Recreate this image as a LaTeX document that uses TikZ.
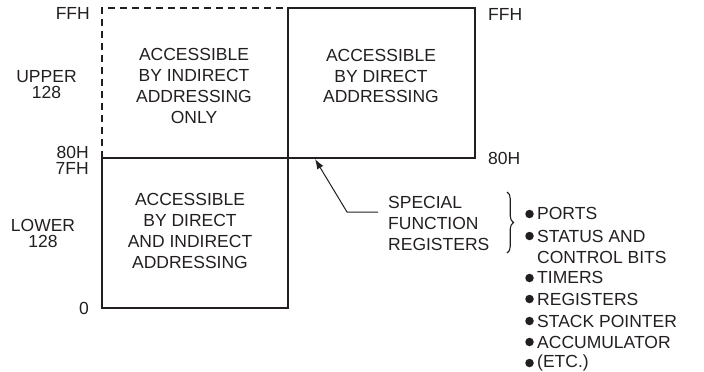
\documentclass[tikz,border=0pt]{standalone}
\usepackage{fontspec}
\setmainfont{Liberation Sans}
\usetikzlibrary{arrows.meta,decorations.pathreplacing}
\definecolor{ink}{HTML}{231F20}
\begin{document}
\begin{tikzpicture}[x=1pt,y=-1pt,
  line/.style={draw=ink,line width=1.2pt},
  dline/.style={draw=ink,line width=1.2pt,dash pattern=on 7pt off 5pt},
  txt/.style={text=ink,font=\fontsize{17.5}{20.8}\selectfont,inner sep=0pt,align=center},
  lab/.style={text=ink,font=\fontsize{17.5}{15.5}\selectfont,inner sep=0pt,align=center},
  item/.style={text=ink,font=\fontsize{17.5}{20.8}\selectfont,inner sep=0pt,anchor=west},
  dot/.style={circle,fill=ink,inner sep=0pt,minimum size=8.5pt}]
\useasboundingbox (0,0) rectangle (704,372);
% corners
\coordinate (ulTL) at (102,8);
\coordinate (ulTR) at (288,8);
\coordinate (urTR) at (475,8);
\coordinate (mL) at (102,158);
\coordinate (mR) at (475,158);
\coordinate (lBL) at (102,308);
\coordinate (lBR) at (288,308);
% boxes
\draw[line] (ulTR) -- (urTR) -- (mR) -- (mL) -- (lBL) -- (lBR) -- cycle;
\draw[dline] (mL) -- (ulTL) -- (ulTR);
% box texts
\node[txt] (ultext) at (194,86) {ACCESSIBLE\\BY INDIRECT\\ADDRESSING\\ONLY};
\node[txt] (urtext) at (381,76) {ACCESSIBLE\\BY DIRECT\\ADDRESSING};
\node[txt] (lotext) at (190,231) {ACCESSIBLE\\BY DIRECT\\AND INDIRECT\\ADDRESSING};
% left labels
\node[lab,anchor=east] (ffhL) at (90,13) {FFH};
\node[lab] (upper) at (46.5,84.5) {UPPER\\128};
\node[lab,anchor=east] (h80L) at (89,152.5) {80H};
\node[lab,anchor=east] (h7F) at (89,168) {7FH};
\node[lab] (lower) at (43,233.5) {LOWER\\128};
\node[lab,anchor=east] (zero) at (89,308.5) {0};
% right labels
\node[lab,anchor=west] (ffhR) at (488,14) {FFH};
\node[lab,anchor=west] (h80R) at (488,158.5) {80H};
% SFR
\node[txt,align=left,anchor=west] (sfr) at (388,223.5) {SPECIAL\\FUNCTION\\REGISTERS};
\coordinate (tip) at (315,159);
\coordinate (knee) at (347,212);
\draw[line,line width=1pt,-{Latex[length=10pt,width=7pt]}] ([xshift=-10pt]sfr.west |- knee) -- (knee) -- (tip);
% brace
\coordinate (brTop) at (507,192);
\coordinate (brBot) at (507,253);
\draw[draw=ink,line width=1.1pt,decorate,decoration={brace,amplitude=6.5pt}] (brTop) -- (brBot);
% list
\node[dot] (d1) at (529.5,214) {};
\node[item] (i1) at (537,213.5) {PORTS};
\node[dot] (d2) at (529.5,236) {};
\node[item] (i2) at (537,236) {STATUS AND};
\node[item] (i3) at (537,257.5) {CONTROL BITS};
\node[dot] (d4) at (529.5,278) {};
\node[item] (i4) at (537,277.5) {TIMERS};
\node[dot] (d5) at (529.5,299) {};
\node[item] (i5) at (537,299) {REGISTERS};
\node[dot] (d6) at (529.5,321) {};
\node[item] (i6) at (537,321) {STACK POINTER};
\node[dot] (d7) at (529.5,342) {};
\node[item] (i7) at (537,342) {ACCUMULATOR};
\node[dot] (d8) at (529.5,363) {};
\node[item] (i8) at (537,362.5) {(ETC.)};
\end{tikzpicture}
\end{document}
